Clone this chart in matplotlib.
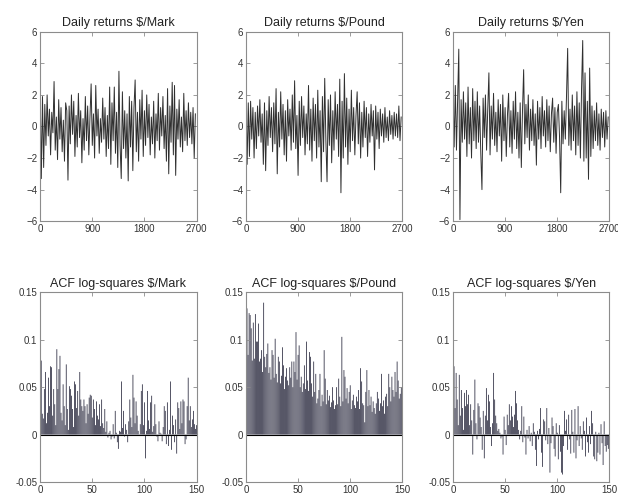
import numpy as np
import matplotlib
matplotlib.use("Agg")
import matplotlib.pyplot as plt

plt.rcParams['font.family'] = ['Liberation Sans', 'DejaVu Sans']

# daily returns, one value every 20 trading days
step = 20
mark_ret = [2.3, -3.3, 1.9, -2.6, 1.4, -1.2, 2.0, -0.6, 1.1, -1.8,
            0.9, -0.4, 2.85, -1.5, 0.6, -2.1, 1.7, -0.8, 1.2, -1.6,
            0.4, -2.2, 1.5, 1.0, -3.4, 1.3, -1.1, 2.0, -0.5, 1.6,
            -1.9, 0.7, -1.3, 2.1, -0.7, 1.0, -2.3, 0.5, -1.5, 1.9,
            -0.9, 1.3, -1.8, 0.6, 2.7, -1.2, 0.8, -2.0, 2.6, -0.6,
            1.1, -1.7, 0.5, -1.0, 1.8, -0.8, 1.2, -1.9, 0.7, -1.4,
            2.5, -2.4, 1.5, -0.9, 2.5, -1.7, 0.9, -2.6, 3.5, -1.2,
            -3.3, 2.2, -1.4, 1.0, -2.0, 0.8, -3.45, 1.9, -1.3, 1.6,
            -2.8, 1.2, 2.95, -1.6, 0.9, -2.2, 1.7, -0.8, 2.3, -1.9,
            1.0, -1.2, 2.0, -0.7, 1.4, -1.8, 0.6, -1.1, 1.6, -2.0,
            0.8, -0.9, 2.1, -1.5, 1.2, -0.6, 1.9, -1.4, 0.7, -2.2,
            2.4, -3.0, 1.3, -1.0, 2.8, -1.8, 2.6, -3.1, 1.1, -0.8,
            1.7, -1.3, 0.6, -1.6, 2.1, -0.9, 1.0, -1.2, 1.5, -0.7,
            0.9, -1.1, 1.2, -2.0, 0.8]
pound_ret = [1.8, -2.4, 1.5, -1.9, 1.6, -0.8, 1.2, -2.0, 0.9, -1.4,
             1.3, -0.6, 1.7, -1.0, 0.8, -2.4, 1.5, -2.8, 1.0, -1.2,
             1.9, -0.7, 1.2, -1.6, 1.5, -1.1, 2.4, -3.0, 0.9, -1.3,
             2.2, -0.8, 1.4, -1.8, 1.0, -2.2, 1.7, -0.6, 1.1, -1.5,
             2.0, -1.0, 2.9, -1.4, 0.7, -3.1, 1.6, -1.2, 1.9, -0.7,
             1.3, -1.8, 0.8, -1.1, 2.6, -1.5, 1.1, -2.2, 1.8, -0.9,
             1.4, -2.0, 2.3, -1.3, 1.0, -3.5, 1.9, -1.6, 3.05, -0.9,
             -3.5, 1.7, -1.2, 2.0, -2.3, 1.0, -1.5, 2.2, -0.8, 1.4,
             -1.9, 3.0, -4.2, 1.6, -2.0, 3.35, -1.3, 1.8, -2.4, 1.1,
             -1.6, 2.3, -0.9, 1.2, -1.8, 0.7, 2.2, -1.1, 1.5, -2.0,
             0.9, -1.3, 1.6, -0.7, 1.2, -1.9, 0.8, -1.0, 1.4, -0.6,
             1.0, -2.75, 1.3, -0.8, 0.9, -1.4, 1.1, -0.6, 0.8, -1.0,
             1.2, -0.7, 0.6, -0.9, 1.0, -0.5, 0.7, -0.8, 0.9, -0.6,
             0.8, -0.7, 1.3, -0.9, 0.6]
yen_ret = [2.4, -1.3, 2.6, -1.5, 1.8, 4.9, -5.9, 1.7, -1.0, 2.2,
           -0.8, 1.5, -1.9, 2.5, -1.1, 1.2, -2.0, 2.4, -0.9, 1.6,
           -1.4, 2.2, -1.0, 1.3, -1.7, -4.0, 1.8, -0.7, 2.0, -1.5,
           1.1, 3.4, -1.8, 1.3, -0.8, 2.1, -1.2, 0.9, -1.6, 1.7,
           -0.6, 1.4, -2.2, 2.0, -0.9, 1.2, -1.9, 0.7, 2.1, -1.3,
           1.0, -1.7, 1.6, -0.8, 2.2, -1.4, 0.9, -2.0, 1.5, -2.6,
           1.0, 3.6, -1.1, 1.4, -0.7, 2.0, -1.5, 1.1, -0.9, 1.7,
           -1.2, 0.8, -2.45, 1.6, -0.8, 1.2, -1.4, 1.9, -0.6, 1.0,
           -1.3, 1.7, -0.9, 1.3, -1.6, 0.8, 1.8, -1.0, 1.2, -1.7,
           0.9, 1.4, -0.7, -4.2, 1.6, -1.1, 1.0, -0.8, 1.9, 4.95,
           -1.2, 1.1, -1.5, 2.0, -0.9, 1.3, -1.8, 2.2, -1.2, 1.5,
           -2.0, 2.4, 5.45, -2.2, 3.4, -2.0, 1.6, -3.35, 3.7, -1.9,
           1.3, -1.4, 1.0, -0.9, 1.5, -1.2, 0.8, -1.5, 1.1, -0.7,
           0.9, -1.3, 1.0, -0.8, 0.6]

# autocorrelation of log-squared returns, lags 1..150
mark_acf = [0.078, 0.022, 0.017, 0.048, 0.066, 0.012, 0.023, 0.060, 0.030, 0.072,
            0.071, 0.020, 0.048, 0.032, 0.010, 0.090, 0.048, 0.069, 0.083, 0.023,
            0.015, 0.053, 0.030, 0.010, 0.074, 0.027, 0.005, 0.051, 0.048, 0.041,
            0.027, 0.008, 0.056, 0.053, 0.028, 0.046, 0.020, 0.066, 0.037, 0.030,
            0.025, 0.037, 0.030, 0.012, 0.032, 0.022, 0.039, 0.042, 0.041, 0.018,
            0.037, 0.027, 0.010, 0.035, 0.020, 0.016, 0.032, 0.009, 0.037, 0.012,
            0.007, 0.027, 0.003, 0.014, -0.003, 0.002, 0.004, -0.005, -0.002, 0.011,
            -0.004, 0.025, 0.002, -0.008, -0.015, 0.004, 0.003, 0.056, 0.007, 0.025,
            -0.002, 0.011, 0.005, -0.008, 0.014, 0.037, 0.018, 0.008, 0.063, 0.039,
            0.012, 0.035, 0.020, 0.004, -0.001, 0.011, 0.046, 0.053, 0.010, 0.034,
            -0.025, 0.004, 0.046, 0.015, 0.006, 0.034, 0.041, 0.003, 0.009, 0.032,
            0.011, -0.002, -0.007, 0.014, 0.002, 0.001, -0.007, 0.008, 0.030, 0.025,
            -0.010, 0.034, -0.012, 0.005, 0.056, -0.016, 0.020, 0.010, -0.008, 0.016,
            -0.020, 0.034, 0.028, 0.006, 0.035, 0.012, 0.037, 0.035, -0.010, -0.005,
            0.030, 0.060, 0.015, 0.030, 0.008, 0.016, 0.025, 0.011, 0.006, 0.010]
pound_acf = [0.133, 0.084, 0.128, 0.126, 0.112, 0.078, 0.118, 0.080, 0.127, 0.098,
             0.098, 0.117, 0.077, 0.080, 0.089, 0.066, 0.139, 0.082, 0.071, 0.085,
             0.096, 0.065, 0.071, 0.058, 0.089, 0.084, 0.060, 0.101, 0.064, 0.055,
             0.082, 0.077, 0.054, 0.062, 0.092, 0.073, 0.048, 0.061, 0.070, 0.057,
             0.052, 0.071, 0.060, 0.077, 0.050, 0.077, 0.066, 0.108, 0.058, 0.084,
             0.094, 0.050, 0.061, 0.045, 0.054, 0.073, 0.048, 0.098, 0.057, 0.046,
             0.087, 0.082, 0.054, 0.040, 0.077, 0.045, 0.064, 0.033, 0.038, 0.047,
             0.064, 0.030, 0.042, 0.035, 0.089, 0.059, 0.032, 0.047, 0.036, 0.041,
             0.029, 0.034, 0.050, 0.036, 0.027, 0.031, 0.050, 0.032, 0.059, 0.040,
             0.030, 0.103, 0.035, 0.068, 0.061, 0.038, 0.049, 0.033, 0.045, 0.052,
             0.027, 0.036, 0.042, 0.031, 0.028, 0.040, 0.035, 0.047, 0.027, 0.070,
             0.056, 0.033, 0.031, 0.013, 0.045, 0.068, 0.030, 0.047, 0.031, 0.040,
             0.024, 0.035, 0.028, 0.022, 0.033, 0.045, 0.038, 0.025, 0.033, 0.064,
             0.030, 0.036, 0.022, 0.040, 0.043, 0.030, 0.064, 0.050, 0.035, 0.061,
             0.047, 0.040, 0.066, 0.045, 0.077, 0.057, 0.038, 0.043, 0.050, 0.046]
yen_acf = [0.072, 0.028, 0.065, 0.037, 0.010, 0.063, 0.020, 0.047, 0.028, 0.005,
           0.044, 0.030, 0.047, 0.032, 0.042, 0.010, 0.032, 0.015, -0.021, 0.026,
           0.058, 0.012, -0.005, 0.033, 0.030, 0.018, 0.008, -0.016, 0.025, -0.025,
           0.020, 0.049, 0.015, 0.042, 0.035, 0.008, -0.012, 0.012, 0.065, 0.037,
           0.020, 0.012, 0.004, 0.006, 0.002, -0.004, -0.002, -0.021, 0.019, 0.005,
           -0.011, 0.021, 0.010, 0.032, 0.015, 0.030, 0.019, 0.008, 0.021, 0.046,
           0.033, 0.015, 0.005, -0.005, 0.004, 0.030, -0.008, 0.019, -0.003, -0.021,
           0.005, -0.004, 0.009, -0.007, 0.002, -0.012, 0.012, 0.003, -0.016, -0.033,
           0.004, -0.005, 0.006, 0.028, -0.019, -0.034, 0.016, 0.014, -0.006, 0.028,
           -0.010, 0.007, -0.040, -0.009, 0.018, 0.009, -0.015, -0.023, 0.012, 0.002,
           -0.026, 0.010, -0.018, -0.040, -0.042, -0.012, 0.025, 0.004, 0.016, -0.016,
           0.021, -0.005, -0.020, 0.026, 0.003, -0.019, 0.027, -0.025, -0.006, 0.030,
           -0.012, 0.009, -0.004, -0.016, 0.014, 0.004, -0.023, 0.018, -0.008, -0.019,
           0.009, -0.010, 0.025, 0.012, -0.023, -0.026, 0.003, -0.028, -0.019, 0.002,
           -0.021, 0.011, -0.009, -0.032, 0.014, -0.012, -0.018, -0.011, -0.015, -0.012]

names = ['Mark', 'Pound', 'Yen']
returns = [mark_ret, pound_ret, yen_ret]
acfs = [mark_acf, pound_acf, yen_acf]

fig = plt.figure(figsize=(6.18, 4.97), dpi=100)
lefts = [0.065, 0.398, 0.733]
w = 0.253


def style(ax):
    for s in ax.spines.values():
        s.set_color('#8c8c8c')
        s.set_linewidth(0.8)
    ax.tick_params(direction='in', length=3, width=0.6, color='#8c8c8c',
                   labelsize=7, labelcolor='#333333', top=True, right=True, pad=2)


for i in range(3):
    # top row: daily returns
    ax = fig.add_axes([lefts[i], 0.555, w, 0.381])
    y = np.array(returns[i])
    x = np.arange(len(y)) * step
    ax.plot(x, y, color='#303030', lw=0.7)
    ax.set_xlim(0, 2700)
    ax.set_ylim(-6, 6)
    ax.set_xticks([0, 900, 1800, 2700])
    ax.set_yticks([-6, -4, -2, 0, 2, 4, 6])
    ax.set_title('Daily returns \\$/' + names[i], fontsize=9, pad=4, color='#222222')
    style(ax)

    # bottom row: ACF of log-squares
    ax = fig.add_axes([lefts[i], 0.030, w, 0.382])
    a = np.array(acfs[i])
    lags = np.arange(1, len(a) + 1)
    bars = ax.bar(lags, a, width=0.7, color='#1a1a30', linewidth=0)
    for b in bars:
        b.set_snap(False)
    ax.axhline(0, color='black', lw=0.8)
    ax.set_xlim(0, 150)
    ax.set_ylim(-0.05, 0.15)
    ax.set_xticks([0, 50, 100, 150])
    ax.set_yticks([-0.05, 0, 0.05, 0.1, 0.15])
    ax.set_yticklabels(['-0.05', '0', '0.05', '0.1', '0.15'])
    ax.set_title('ACF log-squares \\$/' + names[i], fontsize=9, pad=4, color='#222222')
    style(ax)

fig.savefig('out.png', dpi=100)
